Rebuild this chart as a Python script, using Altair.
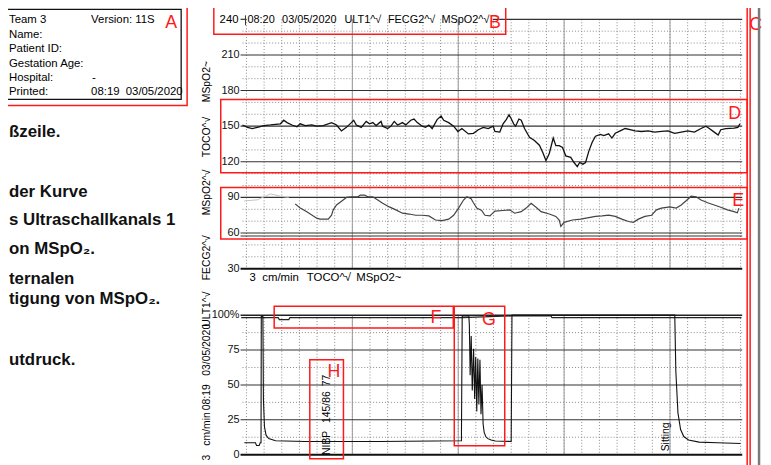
import altair as alt
import pandas as pd

FONT = "Liberation Sans"

# ---------------- data (time in minutes, 3 cm/min paper) ----------------
FHR_T = [-0.075, 0.019, 0.112, 0.206, 0.33, 0.455, 0.642, 0.704, 0.766, 0.86,
         0.953, 1.016, 1.109, 1.234, 1.327, 1.452, 1.607, 1.701, 1.794, 1.888,
         1.981, 2.025, 2.075, 2.168, 2.262, 2.324, 2.386, 2.449, 2.542, 2.573,
         2.667, 2.729, 2.791, 2.854, 2.947, 3.009, 3.103, 3.165, 3.227, 3.321,
         3.383, 3.445, 3.508, 3.601, 3.676, 3.726, 3.819, 3.913, 3.994, 4.069,
         4.193, 4.287, 4.38, 4.473, 4.567, 4.66,
         4.692, 4.785, 4.847, 4.91, 4.959, 5.003, 5.047, 5.084, 5.146, 5.19,
         5.252, 5.346, 5.439, 5.533, 5.595, 5.657, 5.72, 5.794, 5.844, 5.907,
         5.969, 6.031, 6.125, 6.187, 6.249, 6.293, 6.355, 6.405, 6.467, 6.53,
         6.592, 6.685, 6.748, 6.841, 6.903, 6.966, 7.059, 7.153, 7.246, 7.34,
         7.464, 7.589, 7.713, 7.838, 7.963, 8.087, 8.212, 8.336, 8.461, 8.586,
         8.679, 8.742, 8.835, 8.91, 8.959, 9.053, 9.209, 9.283, 9.321]
FHR_BPM = [151, 149, 148, 149, 150.5, 151, 152, 155, 153, 151,
           149.5, 152, 150.5, 151, 150, 150.5, 153, 151, 146, 149,
           153, 155, 151, 149, 154, 152, 153, 150.5, 154, 150,
           148, 150, 154, 151, 153, 151, 155, 156, 153, 150,
           149, 151, 148, 155.5, 158.5, 155, 153, 150, 145.5, 148,
           143.5, 144, 147, 149, 148, 150,
           145.5, 145, 152, 155.7, 159.6, 156, 152, 150, 156, 155,
           148, 140.7, 138, 134, 128, 121, 127, 140, 133.6, 133.6,
           132, 125, 123.7, 119.4, 116, 119.4, 118, 119.4, 129, 136.4,
           141.5, 143, 142, 143.5, 140, 144, 146, 148, 147, 146,
           145.5, 146, 145, 145.7, 146, 144, 145, 146, 145, 148,
           150, 148, 145, 142.6, 147, 148, 148.3, 149, 152]

SPO2_FAINT_T = [-0.044, 0.206, 0.455, 0.642, 0.798]
SPO2_FAINT_V = [87, 88, 93, 91, 90]

SPO2_T = [0.922, 1.016, 1.14, 1.327, 1.389, 1.545, 1.607, 1.639, 1.701, 1.826,
          1.888, 1.981, 2.106, 2.15, 2.23, 2.293, 2.386, 2.48, 2.573, 2.698,
          2.822, 2.947, 3.072, 3.196, 3.321, 3.445, 3.57, 3.695, 3.819, 3.913,
          4.006, 4.1, 4.162, 4.243, 4.287, 4.349, 4.442, 4.505, 4.598, 4.692,
          4.847, 4.972, 5.065, 5.19, 5.283, 5.377, 5.47, 5.564, 5.72, 5.844,
          5.907, 5.938, 6.0, 6.156, 6.312, 6.467, 6.592, 6.717, 6.841, 6.966,
          7.09, 7.215, 7.308, 7.402, 7.526, 7.651, 7.745, 7.838, 7.994, 8.118,
          8.212, 8.305, 8.399, 8.492, 8.586, 8.71, 8.835, 8.959, 9.084, 9.209,
          9.271, 9.302]
SPO2_V = [84.5, 81, 78, 72.5, 71.7, 71.7, 75, 79.5, 83.6, 87.8,
          90, 90.5, 90.5, 92, 92, 90.5, 90.5, 87.8, 85, 82,
          79.5, 76.7, 76, 75, 75, 74.4, 71, 70.5, 71.7, 75,
          81, 87.8, 90.5, 89, 85.5, 81, 79, 75, 74.4, 78.5,
          79, 79.5, 76.7, 78, 81, 85, 81.7, 78, 76, 74,
          71, 65.6, 69, 71, 71.7, 73, 74, 74.4, 75, 74,
          71.7, 69.7, 69, 71.7, 74, 75, 79.5, 81, 82, 81,
          83.6, 87.2, 91, 90.5, 87.8, 85.5, 83.6, 81.7, 79.5, 78,
          77, 81]

TOCO_T = [-0.04, 0.17, 0.19, 0.24, 0.26, 0.275, 0.28, 0.31, 0.32, 0.34,
          0.37, 0.42, 0.55, 1.1, 2.5, 4.06, 4.075, 4.09, 4.2, 4.21,
          4.225, 4.245, 4.265, 4.29, 4.31, 4.33, 4.35, 4.37, 4.39, 4.41,
          4.43, 4.45, 4.47, 4.49, 4.52, 4.56, 4.62, 4.7, 5.0,
          5.015, 5.03, 8.08, 8.09, 8.11, 8.15, 8.2, 8.26, 8.35, 8.55,
          8.9, 9.33]
TOCO_V = [8.5, 8.5, 6.6, 6.6, 8.5, 8.5, 99.3, 99.3, 40, 20,
          14, 11.5, 10, 9.5, 9.5, 10, 99.5, 99.5, 99.5, 93,
          57, 85, 46, 76, 40, 70, 31, 69, 36, 68,
          29, 50, 22, 16, 13, 11.5, 10.5, 9.8, 9.5,
          100, 100, 100, 100, 60, 30, 18, 13, 10.5, 9,
          8.5, 8]

MSPO2_T = [-0.1, 0.6, 0.62, 0.8, 0.82, 4.08, 5.03, 5.75, 5.77, 9.35]
MSPO2_V = [98.2, 98.2, 96.8, 96.8, 98.2, 98.2, 99.5, 99.5, 98.3, 98.3]

UPPER_SOLID = [210, 180, 150, 120, 90, 60]
UPPER_DOTTED = [230, 220, 200, 190, 170, 160, 140, 130, 110, 100, 80, 70, 50, 40]
UPPER_TICKS = [210, 180, 150, 120, 90, 60, 30]
LOWER_SOLID = [75, 50, 25]
LOWER_DOTTED = [87.5, 62.5, 37.5, 12.5]
LOWER_TICKS = [100, 75, 50, 25, 0]
LOWER_TICK_LABELS = ["100%", "75", "50", "25", "0"]
GRID_T = [k / 3 for k in range(29)]
GRID_T_SOLID = [2, 4, 6, 8]

# ---------------- layout ----------------
X0, Y0 = 243, 17          # page position of plot origin
W, H = 507, 440
XS = alt.Scale(domain=[-0.112, 9.364], nice=False, zero=False)
YU = alt.Scale(domain=[-126.67, 240], nice=False, zero=False)
YL = alt.Scale(domain=[0, 312.06], nice=False, zero=False)
ONE = pd.DataFrame({"k": [0]})

def X(f="t"):
    return alt.X(f"{f}:Q", scale=XS, axis=None)

def Y(scale, f="v"):
    return alt.Y(f"{f}:Q", scale=scale, axis=None)

layers = []

def hrules(vals, scale, **mk):
    return alt.Chart(pd.DataFrame({"v": vals})).mark_rule(**mk).encode(y=Y(scale))

def vrules(ts, scale, top, bot, **mk):
    df = pd.DataFrame({"t": ts, "top": [top] * len(ts), "bot": [bot] * len(ts)})
    return alt.Chart(df).mark_rule(**mk).encode(x=X(), y=Y(scale, "top"), y2="bot:Q")

def line(ts, vs, scale, **mk):
    return alt.Chart(pd.DataFrame({"t": ts, "v": vs})).mark_line(**mk).encode(x=X(), y=Y(scale))

def txt(s, px, py, size=11, color="black", align="left", baseline="alphabetic",
        angle=0, weight="normal"):
    return alt.Chart(ONE).mark_text(
        text=s, fontSize=size, font=FONT, color=color, align=align,
        baseline=baseline, angle=angle, fontWeight=weight
    ).encode(x=alt.value(px - X0), y=alt.value(py - Y0))

def box(x1, y1, x2, y2, color="#ff1a1a", sw=1.5):
    return alt.Chart(ONE).mark_rect(filled=False, stroke=color, strokeWidth=sw).encode(
        x=alt.value(x1 - X0), x2=alt.value(x2 - X0),
        y=alt.value(y1 - Y0), y2=alt.value(y2 - Y0))

DOT = dict(color="#8a8a8a", strokeWidth=1, strokeDash=[1, 2])

# upper panel grid
layers.append(hrules(UPPER_DOTTED, YU, **DOT))
layers.append(vrules(GRID_T, YU, 240, 30, **DOT))
layers.append(vrules(GRID_T_SOLID, YU, 240, 30, color="#9a9a9a", strokeWidth=1))
layers.append(hrules(UPPER_SOLID, YU, color="#333", strokeWidth=1.1))
layers.append(hrules([57.5], YU, color="#333", strokeWidth=1.1))
layers.append(hrules([30], YU, color="#111", strokeWidth=2))
layers.append(alt.Chart(pd.DataFrame({"v": [240], "t1": [4.65], "t2": [9.364]}))
              .mark_rule(color="#333", strokeWidth=1.2)
              .encode(y=Y(YU), x=X("t1"), x2="t2:Q"))
layers.append(alt.Chart(pd.DataFrame({"v": [240], "t1": [-0.112], "t2": [0.0]}))
              .mark_rule(color="#333", strokeWidth=1.2)
              .encode(y=Y(YU), x=X("t1"), x2="t2:Q"))

# lower panel grid
layers.append(hrules(LOWER_DOTTED, YL, **DOT))
layers.append(vrules(GRID_T, YL, 100, 0, **DOT))
layers.append(vrules(GRID_T_SOLID, YL, 100, 0, color="#9a9a9a", strokeWidth=1))
layers.append(hrules(LOWER_SOLID, YL, color="#333", strokeWidth=1.1))
layers.append(hrules([100], YL, color="#222", strokeWidth=1.5))
layers.append(hrules([0], YL, color="#111", strokeWidth=2))

# traces
layers.append(line(SPO2_FAINT_T, SPO2_FAINT_V, YU, color="#c4c4c4", strokeWidth=1))
layers.append(line(SPO2_T, SPO2_V, YU, color="#444", strokeWidth=1.2))
layers.append(line(FHR_T, FHR_BPM, YU, color="#111", strokeWidth=1.3))
layers.append(line(MSPO2_T, MSPO2_V, YL, color="#222", strokeWidth=1.2))
layers.append(line(TOCO_T, TOCO_V, YL, color="#111", strokeWidth=1.1))

# tick labels
layers.append(alt.Chart(pd.DataFrame({"v": UPPER_TICKS, "lab": [str(v) for v in UPPER_TICKS]}))
              .mark_text(align="right", baseline="middle", fontSize=11, font=FONT, color="#111")
              .encode(x=alt.value(242 - X0), y=Y(YU), text="lab:N"))
layers.append(alt.Chart(pd.DataFrame({"v": LOWER_TICKS, "lab": LOWER_TICK_LABELS}))
              .mark_text(align="right", baseline="middle", fontSize=11, font=FONT, color="#111")
              .encode(x=alt.value(242 - X0), y=Y(YL), text="lab:N"))

# header line
layers.append(txt("240", 241, 21, size=11.5, align="right"))
layers.append(alt.Chart(ONE).mark_rule(color="#333", strokeWidth=1).encode(
    x=alt.value(248 - X0), y=alt.value(13 - Y0), y2=alt.value(23 - Y0)))
for s, px in [("08:20", 250), ("03/05/2020", 285), ("ULT1^\u221a", 348),
              ("FECG2^\u221a", 392), ("MSpO2^\u221a", 446)]:
    layers.append(txt(s, px, 21, size=11))

# label under upper panel
for s, px in [("3", 252), ("cm/min", 265), ("TOCO^\u221a", 310), ("MSpO2~", 360)]:
    layers.append(txt(s, px, 281, size=11.5))

# rotated left labels
for s, cy in [("3", 460), ("cm/min", 431), ("08:19", 399), ("03/05/2020", 351),
              ("ULT1^\u221a", 310), ("FECG2^\u221a", 258), ("MSpO2^\u221a", 192),
              ("TOCO^\u221a", 136), ("MSpO2~", 80)]:
    layers.append(txt(s, 209, cy, size=10.5, align="center", baseline="middle", angle=270))

# event annotations
for s, cy in [("NIBP", 445), ("145/86", 409), ("77", 382)]:
    layers.append(txt(s, 330, cy, size=10.5, align="center", baseline="middle", angle=270))
layers.append(txt("Sitting", 673, 439, size=10.5, align="center", baseline="middle", angle=270))

# info box A
layers.append(box(5, 7, 183, 98, color="#111", sw=1.3))
for s, px, py in [("Team  3", 9, 21), ("Version: 11S", 92, 21), ("Name:", 9, 36),
                  ("Patient  ID:", 9, 50), ("Gestation  Age:", 9, 65),
                  ("Hospital:", 9, 79), ("-", 93, 79), ("Printed:", 9, 93),
                  ("08:19", 92, 93), ("03/05/2020", 127, 93)]:
    layers.append(txt(s, px, py, size=11.5))

# German caption fragments on the left (left part cut off in the source)
for s, py in [("ßzeile.", 136), ("der Kurve", 197),
              ("s Ultraschallkanals 1", 225), ("on MSpO\u2082.", 254),
              ("ternalen", 285), ("tigung von MSpO\u2082.", 305),
              ("utdruck.", 366)]:
    layers.append(txt(s, 9, py, size=17, align="left", weight="bold", color="#111"))

# red annotation boxes and letters
RED = "#ff1a1a"
for b in [(2, 3, 189, 104), (216, 4, 511, 32), (223, 98, 755, 172), (223, 187, 755, 239),
          (277, 307, 458, 329), (459, 307, 510, 448), (313, 361, 347, 461),
          (755, 3, 758, 480)]:
    layers.append(box(*b, color=RED, sw=1.5))
for s, px, py in [("A", 167, 26), ("B", 494, 26), ("C", 757, 28), ("D", 736, 118),
                  ("E", 740, 206), ("F", 435, 324), ("G", 487, 326), ("H", 331, 378)]:
    layers.append(txt(s, px, py, size=18, color=RED))

# right edge grey paper line
layers.append(alt.Chart(ONE).mark_rule(color="#7a7a7a", strokeWidth=2.5).encode(
    x=alt.value(767 - X0), y=alt.value(-20), y2=alt.value(470 - Y0)))

chart = (
    alt.layer(*layers)
    .resolve_scale(y="independent")
    .properties(
        width=W, height=H,
        autosize=alt.AutoSizeParams(type="none"),
        padding={"left": X0 - 8, "top": Y0 - 8, "right": 763 - (X0 - 8) - W,
                 "bottom": 457 - (Y0 - 8) - H},
        background="white",
    )
    .configure_view(stroke=None)
)

chart.save("out.html", embed_options={"renderer": "svg", "actions": False})
